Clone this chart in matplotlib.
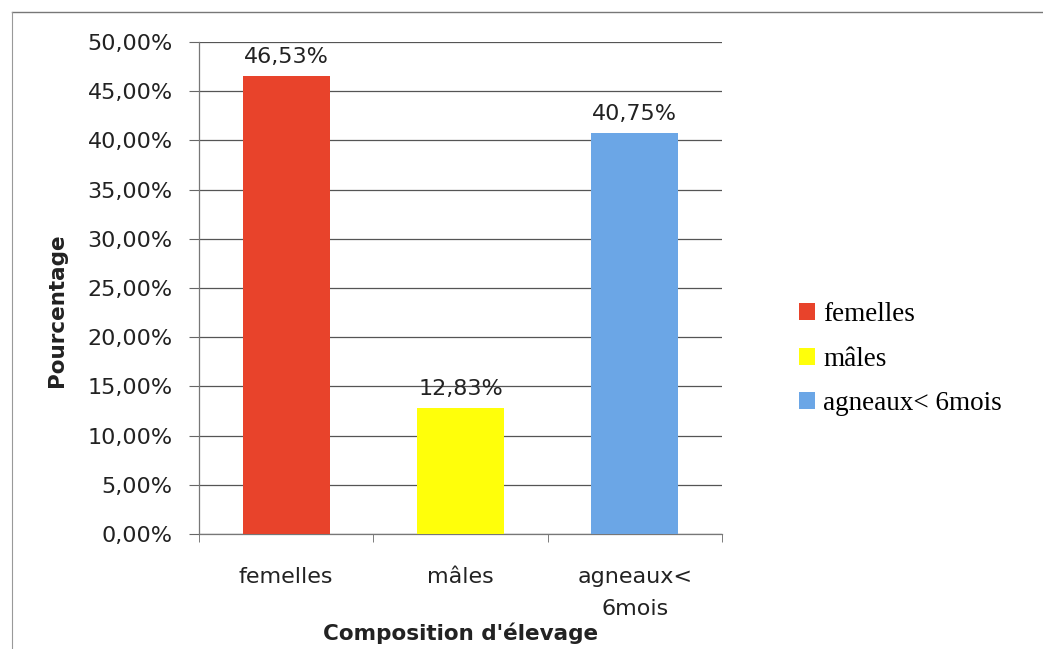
import matplotlib
matplotlib.use("Agg")
import matplotlib.pyplot as plt
from matplotlib.lines import Line2D
from matplotlib.patches import Patch
import numpy as np

# Données
categories = ["femelles", "mâles", "agneaux<\n6mois"]
legend_labels = ["femelles", "mâles", "agneaux< 6mois"]
values = [46.53, 12.83, 40.75]
bar_colors = ["#E8432B", "#FFFF0A", "#6BA6E6"]

W, H = 1043, 649
fig = plt.figure(figsize=(W / 100, H / 100), dpi=100)
ax = fig.add_axes([199 / W, 1 - 534 / H, (722 - 199) / W, (534 - 42) / H])

x = np.arange(len(categories))
ax.bar(x, values, width=0.5, color=bar_colors, zorder=3)

# Étiquettes de valeurs
for xi, v in zip(x, values):
    ax.text(xi, v + 0.9, f"{v:.2f}%".replace(".", ","), ha="center", va="bottom",
            fontsize=16, color="#222222", zorder=4)

ax.set_xlim(-0.5, len(categories) - 0.5)
ax.set_ylim(0, 50)
yt = np.arange(0, 51, 5)
ax.set_yticks(yt)
ax.set_yticklabels([f"{t:.2f}%".replace(".", ",") for t in yt], fontsize=16, color="#222222")
ax.yaxis.grid(True, color="#555555", linewidth=0.9, zorder=0)

ax.set_xticks(x)
ax.set_xticklabels(categories, fontsize=16, color="#222222", linespacing=1.75)
ax.set_xticks(np.arange(-0.5, len(categories)), minor=True)
ax.tick_params(axis="x", which="major", length=0, pad=24)
ax.tick_params(axis="x", which="minor", length=6, color="#666666", direction="out")
ax.tick_params(axis="y", length=7, color="#666666", pad=12)

for s in ["top", "right"]:
    ax.spines[s].set_visible(False)
for s in ["left", "bottom"]:
    ax.spines[s].set_color("#777777")
    ax.spines[s].set_linewidth(0.9)

ax.set_ylabel("Pourcentage", fontsize=15.5, fontweight="bold", color="#222222")
ax.yaxis.set_label_coords(-0.252, 0.455)
ax.set_xlabel("Composition d'élevage", fontsize=15.5, fontweight="bold", color="#222222", labelpad=2)

# Légende
handles = [Patch(facecolor=c, edgecolor="none") for c in bar_colors]
ax.legend(handles, legend_labels, loc="center left", bbox_to_anchor=(1.1, 0.355),
          frameon=False, prop={"family": "Liberation Serif", "size": 19.5},
          handlelength=0.6, handleheight=0.6, handletextpad=0.3, labelspacing=0.72)

# Cadre extérieur
fig.add_artist(Line2D([12 / W, 1.0], [1 - 12 / H, 1 - 12 / H], color="#777777", lw=1.0))
fig.add_artist(Line2D([12 / W, 12 / W], [0, 1 - 12 / H], color="#999999", lw=0.8))

fig.savefig("out.png", dpi=100)
